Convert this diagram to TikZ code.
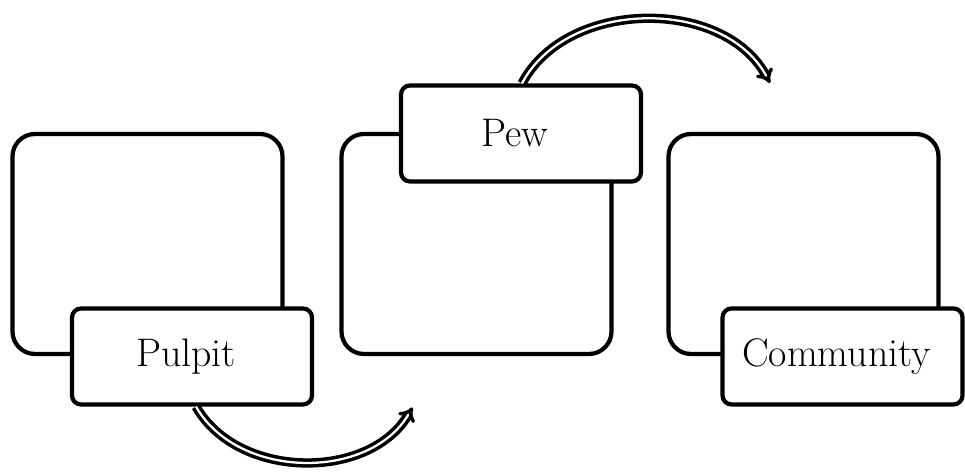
\documentclass[tikz,border=0pt]{standalone}
\usepackage{tikz}
\usetikzlibrary{arrows.meta,positioning}
\tikzset{
  stage node/.style={
    rectangle,
    rounded corners=4.5mm,
    draw=black,
    fill=white,
    line width=2.4pt,
    minimum width=54mm,
    minimum height=44mm,
    inner sep=0pt
  }
}
\tikzset{
  label node/.style={
    rectangle,
    rounded corners=1.8mm,
    draw=black,
    fill=white,
    line width=2.4pt,
    minimum width=48mm,
    minimum height=19.2mm,
    inner sep=0pt,
    align=center,
    font=\fontsize{22.7}{27}\selectfont
  }
}
\tikzset{
  flow arrow/.style={
    -{Implies[scale=1.2]},
    draw=black,
    double=white,
    double distance=1.3pt,
    line width=2pt
  }
}

\begin{document}
\begin{tikzpicture}

    \useasboundingbox (0,0) rectangle (19.3,9.48);

    % ------------------------------------------------------------
    % Stage boxes
    % ------------------------------------------------------------

    \node[stage node] (stageA) at (2.95,4.6) {};
    \node[stage node] (stageB) at (9.53,4.6) {};
    \node[stage node] (stageC) at (16.07,4.6) {};

    % ------------------------------------------------------------
    % Labels
    % ------------------------------------------------------------

    \node[label node] (pulpit) at (3.84,2.35)
    {
      Pulpit
    };

    \node[label node] (pew) at (10.42,6.81)
    {
      Pew
    };

    \node[label node] (community) at (16.85,2.35)
    {
      Community
    };

    % ------------------------------------------------------------
    % Flow arrows
    % ------------------------------------------------------------

    \coordinate (pewIn) at (8.25,1.33);
    \coordinate (communityIn) at (15.4,7.82);

    % Pulpit to pew
    \draw[flow arrow]
      ([xshift=0.8mm]pulpit.south)
      to[bend right=60]
      (pewIn);

    % Pew to community
    \draw[flow arrow]
      ([xshift=0.2mm]pew.north)
      to[bend left=62]
      (communityIn);

\end{tikzpicture}
\end{document}
